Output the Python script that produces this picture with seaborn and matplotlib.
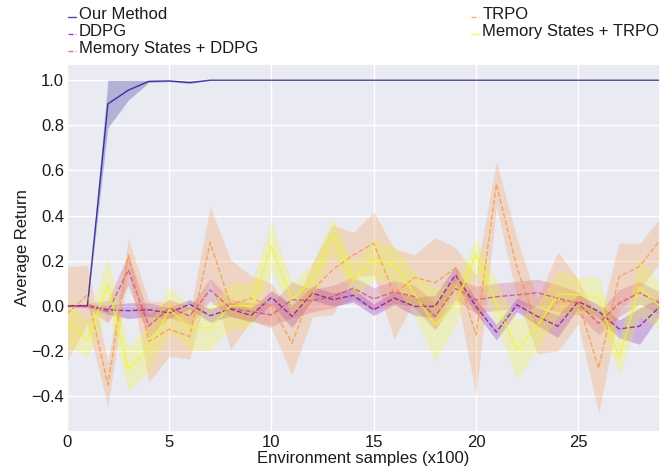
import numpy as np
import pandas as pd
import matplotlib
matplotlib.use("Agg")
import matplotlib.pyplot as plt
from matplotlib.lines import Line2D
from matplotlib.legend_handler import HandlerLine2D
import seaborn as sns

steps = list(range(30))
names = ["Our Method", "DDPG", "Memory States + DDPG", "TRPO", "Memory States + TRPO"]

ours_mean = [0, 0, 0.895, 0.956, 0.995, 0.997, 0.99, 1.0, 1.0, 1.0, 1.0, 1.0, 1.0, 1.0, 1.0,
             1.0, 1.0, 1.0, 1.0, 1.0, 1.0, 1.0, 1.0, 1.0, 1.0, 1.0, 1.0, 1.0, 1.0, 1.0]
ours_std = [0, 0, 0.105, 0.044, 0.005, 0.003, 0.005, 0, 0, 0, 0, 0, 0, 0, 0,
            0, 0, 0, 0, 0, 0, 0, 0, 0, 0, 0, 0, 0, 0, 0]

ddpg_mean = [0, 0, -0.018, -0.022, -0.018, -0.032, 0.007, -0.044, -0.015, -0.043, 0.037, -0.047,
             0.056, 0.027, 0.046, -0.018, 0.034, -0.003, -0.003, 0.137, -0.003, -0.117, 0.004,
             -0.047, -0.091, 0.019, -0.025, -0.103, -0.091, -0.003]
ddpg_std = [0.005, 0.005, 0.02, 0.035, 0.03, 0.025, 0.02, 0.03, 0.03, 0.03, 0.03, 0.05, 0.03, 0.03,
            0.03, 0.025, 0.03, 0.04, 0.05, 0.04, 0.03, 0.035, 0.03, 0.04, 0.05, 0.03, 0.03, 0.04,
            0.08, 0.04]

msddpg_mean = [0, 0, -0.026, 0.159, -0.09, -0.011, -0.045, 0.07, -0.011, -0.026, -0.041, 0.026,
               0.023, 0.04, 0.078, 0.03, 0.062, 0.04, -0.048, 0.077, 0.026, 0.04, 0.048, 0.058,
               0.033, 0.011, -0.078, 0.011, 0.058, 0.01]
msddpg_std = [0.005, 0.01, 0.05, 0.07, 0.05, 0.04, 0.04, 0.05, 0.04, 0.04, 0.05, 0.08, 0.05, 0.05,
              0.05, 0.05, 0.05, 0.05, 0.06, 0.05, 0.06, 0.06, 0.06, 0.06, 0.06, 0.05, 0.05, 0.06,
              0.05, 0.05]

trpo_mean = [-0.036, 0.048, -0.35, 0.225, -0.159, -0.104, -0.137, 0.28, 0.004, 0.033, 0.0, -0.166,
             0.07, 0.16, 0.225, 0.277, 0.052, 0.126, 0.102, 0.168, -0.13, 0.54, 0.17, -0.093,
             0.018, 0.018, -0.277, 0.129, 0.174, 0.29]
trpo_std = [0.21, 0.13, 0.1, 0.07, 0.18, 0.12, 0.1, 0.16, 0.2, 0.1, 0.1, 0.14, 0.12, 0.2, 0.1,
            0.14, 0.2, 0.1, 0.2, 0.09, 0.27, 0.1, 0.13, 0.12, 0.22, 0.1, 0.2, 0.15, 0.1, 0.1]

mstrpo_mean = [-0.077, -0.15, 0.093, -0.28, -0.19, -0.016, -0.098, -0.098, 0.0, 0.0, 0.262, 0.03,
               0.111, 0.311, 0.114, 0.203, 0.186, 0.05, -0.085, 0.008, 0.228, 0.01, -0.195,
               -0.093, 0.052, 0.048, 0.036, -0.23, 0.082, -0.004]
mstrpo_std = [0.1, 0.08, 0.12, 0.1, 0.1, 0.1, 0.1, 0.1, 0.1, 0.1, 0.11, 0.07, 0.08, 0.08, 0.08,
              0.09, 0.08, 0.1, 0.16, 0.1, 0.07, 0.1, 0.13, 0.1, 0.1, 0.08, 0.09, 0.08, 0.13, 0.1]

x_ticks = [0, 5, 10, 15, 20, 25]
y_ticks = [-0.4, -0.2, 0.0, 0.2, 0.4, 0.6, 0.8, 1.0]

sns.set_theme(style="darkgrid", context="notebook",
              rc={"axes.labelsize": 12, "xtick.labelsize": 12, "ytick.labelsize": 12,
                  "legend.fontsize": 12, "xtick.major.pad": 2, "ytick.major.pad": 2,
                  "xtick.major.size": 0, "ytick.major.size": 0,
                  "text.color": "#1a1a1a", "axes.labelcolor": "#1a1a1a",
                  "xtick.color": "#1a1a1a", "ytick.color": "#1a1a1a"})
plt.rcParams["font.family"] = ["Liberation Sans", "DejaVu Sans"]

fig = plt.figure(figsize=(6.71, 4.67), dpi=100)
ax = fig.add_axes([67 / 671, 1 - 432 / 467, 593 / 671, 368 / 467])

colors = plt.cm.plasma(np.linspace(0, 1, 5))
styles = ["-", "--", "--", "--", "-"]
means = [ours_mean, ddpg_mean, msddpg_mean, trpo_mean, mstrpo_mean]
stds = [ours_std, ddpg_std, msddpg_std, trpo_std, mstrpo_std]

for name, m, s, c, ls in zip(names, means, stds, colors, styles):
    df = pd.DataFrame({"step": steps, "ret": m, "std": s})
    ax.fill_between(df["step"], df["ret"] - df["std"], df["ret"] + df["std"],
                    color=c, alpha=0.25, linewidth=0)
    sns.lineplot(data=df, x="step", y="ret", color=c, linestyle=ls, linewidth=1.0,
                 alpha=0.75, label=name, ax=ax)

ax.set_xlim(0, 29)
ax.set_ylim(-0.56, 1.072)
ax.set_xticks(x_ticks)
ax.set_yticks(y_ticks)
ax.set_xlabel("Environment samples (x100)", labelpad=1)
ax.set_ylabel("Average Return")
ax.yaxis.set_label_coords(-0.062, 0.5)


class LowLineHandler(HandlerLine2D):
    def create_artists(self, legend, orig_handle, xdescent, ydescent, width, height,
                       fontsize, trans):
        return super().create_artists(legend, orig_handle, xdescent, ydescent + 0.5 * fontsize,
                                      width, height, fontsize, trans)


handles, labels = ax.get_legend_handles_labels()
ax.legend(handles, labels, loc="upper left", bbox_to_anchor=(68 / 671, 1 - 7 / 467),
          bbox_transform=fig.transFigure, ncol=2, frameon=False, handlelength=0.45,
          handletextpad=0.2, borderpad=0, borderaxespad=0,
          labelspacing=0.12, columnspacing=12.8,
          handler_map={Line2D: LowLineHandler()})

fig.savefig("out.png", dpi=100)
